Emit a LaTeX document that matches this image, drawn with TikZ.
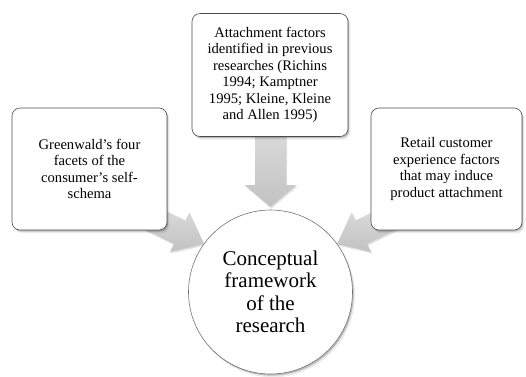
\documentclass[tikz,border=0pt]{standalone}
\usepackage{fontspec}
\setmainfont{Liberation Serif}
\usetikzlibrary{shadows}
\begin{document}
\begin{tikzpicture}[x=1pt,y=-1pt,
  softshadow/.style={
    drop shadow={shadow xshift=1.2pt,shadow yshift=-1.6pt,fill=black,opacity=.20},
    drop shadow={shadow xshift=2.4pt,shadow yshift=-3.2pt,fill=black,opacity=.08}},
  box/.style={draw=black!70, line width=0.6pt, rounded corners=8pt, fill=white,
    align=center, inner sep=3pt, font=\fontsize{14.6}{16.5}\selectfont, softshadow},
  hub/.style={circle, draw=black!55, line width=0.6pt, fill=white,
    minimum size=164pt, inner sep=0pt, align=center,
    font=\fontsize{21}{22.5}\selectfont, softshadow},
  arrowfill/.style={top color=black!13, bottom color=black!24,
    drop shadow={shadow xshift=1pt,shadow yshift=-1.5pt,fill=black,opacity=.12}},
  % block arrow along the local x axis: length, shaft width, head width, head length
  pics/blockarrow/.style n args={4}{code={
    \path[arrowfill] (0,#2/2) -- ({#1-#4},#2/2) -- ({#1-#4},#3/2) -- (#1,0)
      -- ({#1-#4},-#3/2) -- ({#1-#4},-#2/2) -- (0,-#2/2) -- cycle;
  }}
]
\useasboundingbox (0,0) rectangle (526,376);

% block arrows converging on the central circle
\pic[rotate=-90]  at (270.5,120)  {blockarrow={87}{31}{52}{22}};
\pic[rotate=-26]  at (141,213.3)  {blockarrow={70}{26}{44}{27}};
\pic[rotate=-154] at (400,213.3)  {blockarrow={70}{26}{44}{27}};

% source boxes
\node[box, minimum width=155pt, minimum height=122pt] (lf) at (89.5,169)
  {Greenwald’s four\\facets of the\\consumer’s self-\\schema};
\node[box, minimum width=156pt, minimum height=123pt] (tp) at (270,75)
  {Attachment factors\\identified in previous\\researches (Richins\\1994; Kamptner\\1995; Kleine, Kleine\\and Allen 1995)};
\node[box, minimum width=151pt, minimum height=122pt] (rt) at (446.5,169)
  {Retail customer\\experience factors\\that may induce\\product attachment};

% central circle
\node[hub] (c) at (270.5,292) {Conceptual\\framework\\of the\\research};
\end{tikzpicture}
\end{document}
